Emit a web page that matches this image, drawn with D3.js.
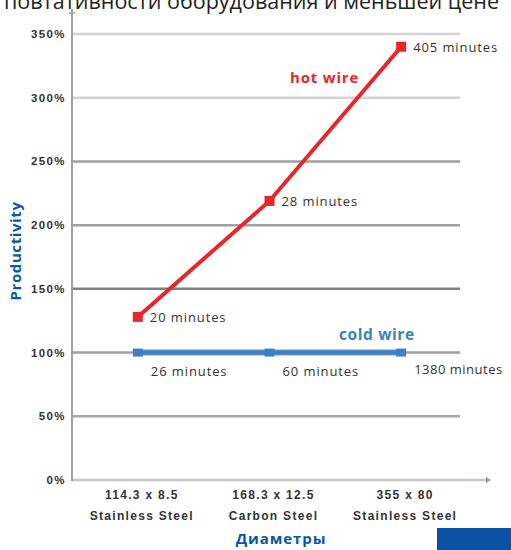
<!DOCTYPE html>
<html><head><meta charset="utf-8">
<script src="https://cdn.jsdelivr.net/npm/d3@7"></script>
<style>body{margin:0;background:#fff}svg{display:block}</style>
</head><body><svg id="c" width="511" height="550"></svg>
<script>
const categories = [["114.3 x 8.5","Stainless Steel"],["168.3 x 12.5","Carbon Steel"],["355 x 80","Stainless Steel"]];
const catKeys = ["c1","c2","c3"];
const hotWire = [128, 219, 340];
const coldWire = [100, 100, 100];
const hotLabels = ["20 minutes","28 minutes","405 minutes"];
const coldLabels = ["26 minutes","60 minutes","1380 minutes"];
const yTicks = [0,50,100,150,200,250,300,350];

const svg = d3.select("#c");
const x = d3.scalePoint().domain(catKeys).range([72,467]).padding(0.5);
const y = d3.scaleLinear().domain([0,350]).range([480,34]);

// top cropped text (cut off at the top edge, as in the source image)
svg.append("text").attr("x",4).attr("y",9).attr("font-family","Open Sans, sans-serif")
  .attr("font-size",21.5).attr("fill","#222").text("повтативности оборудования и меньшей цене");

// gridlines
const gridColor = {0:"#d4d4d4",50:"#a8a8a8",100:"#a0a0a0",150:"#808080",200:"#a0a0a0",250:"#a0a0a0",300:"#d4d4d4",350:"#d4d4d4"};
svg.append("g").selectAll("line").data(yTicks).join("line")
  .attr("x1",72).attr("x2",460).attr("y1",d=>y(d)).attr("y2",d=>y(d))
  .attr("stroke",d=>gridColor[d]).attr("stroke-width",2.5);

// x axis line with arrow
svg.append("line").attr("x1",72).attr("x2",488).attr("y1",y(0)).attr("y2",y(0)).attr("stroke","#c8c8c8").attr("stroke-width",2.5);
svg.append("path").attr("d",`M486,${y(0)-3}L491,${y(0)}L486,${y(0)+3}Z`).attr("fill","#999");
// y axis line
svg.append("line").attr("x1",72).attr("x2",72).attr("y1",9).attr("y2",y(0)+1).attr("stroke","#a0a0a0").attr("stroke-width",2);
svg.append("line").attr("x1",69).attr("x2",75).attr("y1",13).attr("y2",13).attr("stroke","#a0a0a0").attr("stroke-width",1.5);

// y tick labels
svg.append("g").selectAll("text").data(yTicks).join("text")
  .attr("x",66).attr("y",d=>y(d)+4).attr("text-anchor","end")
  .attr("font-family","Liberation Sans, Arial, sans-serif").attr("font-weight","bold")
  .attr("font-size",11.5).attr("fill","#333").attr("letter-spacing","1.4")
  .text(d=>d+"%");

// y title
svg.append("text").attr("transform","translate(21,251) rotate(-90)").attr("text-anchor","middle")
  .attr("font-family","Open Sans, sans-serif").attr("font-weight","bold").attr("font-size",15)
  .attr("letter-spacing","0.6").attr("fill","#0b56a8").text("Productivity");

// category labels
const cl = svg.append("g").selectAll("text").data(categories).join("text")
  .attr("x",(d,i)=>x(catKeys[i])+4).attr("y",499).attr("text-anchor","middle")
  .attr("font-family","Liberation Sans, Arial, sans-serif").attr("font-weight","bold")
  .attr("font-size",12).attr("letter-spacing","1.3").attr("fill","#333");
cl.append("tspan").text(d=>d[0]);
cl.append("tspan").attr("x",(d,i)=>x(catKeys[i])+4).attr("dy",21).text(d=>d[1]);

// x title
svg.append("text").attr("x",281).attr("y",544).attr("text-anchor","middle")
  .attr("font-family","Open Sans, sans-serif").attr("font-weight","bold").attr("font-size",15)
  .attr("letter-spacing","0.9").attr("fill","#0b56a8").text("Диаметры");
svg.append("rect").attr("x",437).attr("y",528).attr("width",74).attr("height",22).attr("fill","#0a50a3");

// cold wire
const line = d3.line().x((d,i)=>x(catKeys[i])).y(d=>y(d));
svg.append("path").datum(coldWire).attr("d",line).attr("fill","none").attr("stroke","#aac8e8").attr("stroke-width",7);
svg.append("path").datum(coldWire).attr("d",line).attr("fill","none").attr("stroke","#3d7fc4").attr("stroke-width",4.5);
svg.append("g").selectAll("rect").data(coldWire).join("rect")
  .attr("x",(d,i)=>x(catKeys[i])-5).attr("y",d=>y(d)-4).attr("width",10).attr("height",8).attr("fill","#3d7fc4");

// hot wire
svg.append("path").datum(hotWire).attr("d",line).attr("fill","none").attr("stroke","#e8262a").attr("stroke-width",4);
svg.append("g").selectAll("rect").data(hotWire).join("rect")
  .attr("x",(d,i)=>x(catKeys[i])-5).attr("y",d=>y(d)-5).attr("width",10).attr("height",10).attr("fill","#e8262a");

// annotations
const ann = {"font-family":"Open Sans, sans-serif","font-size":13,"fill":"#333"};
svg.append("g").selectAll("text").data(hotWire).join("text")
  .attr("x",(d,i)=>x(catKeys[i])+12).attr("y",d=>y(d)+5)
  .attr("font-family",ann["font-family"]).attr("font-size",ann["font-size"]).attr("fill",ann.fill)
  .attr("letter-spacing","0.9").text((d,i)=>hotLabels[i]);
svg.append("g").selectAll("text").data(coldWire).join("text")
  .attr("x",(d,i)=>x(catKeys[i])+13).attr("y",(d,i)=>y(d)+(i<2?23:21))
  .attr("font-family",ann["font-family"]).attr("font-size",ann["font-size"]).attr("fill",ann.fill)
  .attr("letter-spacing",(d,i)=>i<2?"0.9":"0.5").text((d,i)=>coldLabels[i]);

svg.append("text").attr("x",290).attr("y",83).attr("font-family","Open Sans, sans-serif")
  .attr("font-weight","bold").attr("font-size",15).attr("letter-spacing","0.8").attr("fill","#e8262a").text("hot wire");
svg.append("text").attr("x",339).attr("y",340).attr("font-family","Open Sans, sans-serif")
  .attr("font-weight","bold").attr("font-size",15.5).attr("letter-spacing","0.6").attr("fill","#3d7fc4").text("cold wire");
</script></body></html>
